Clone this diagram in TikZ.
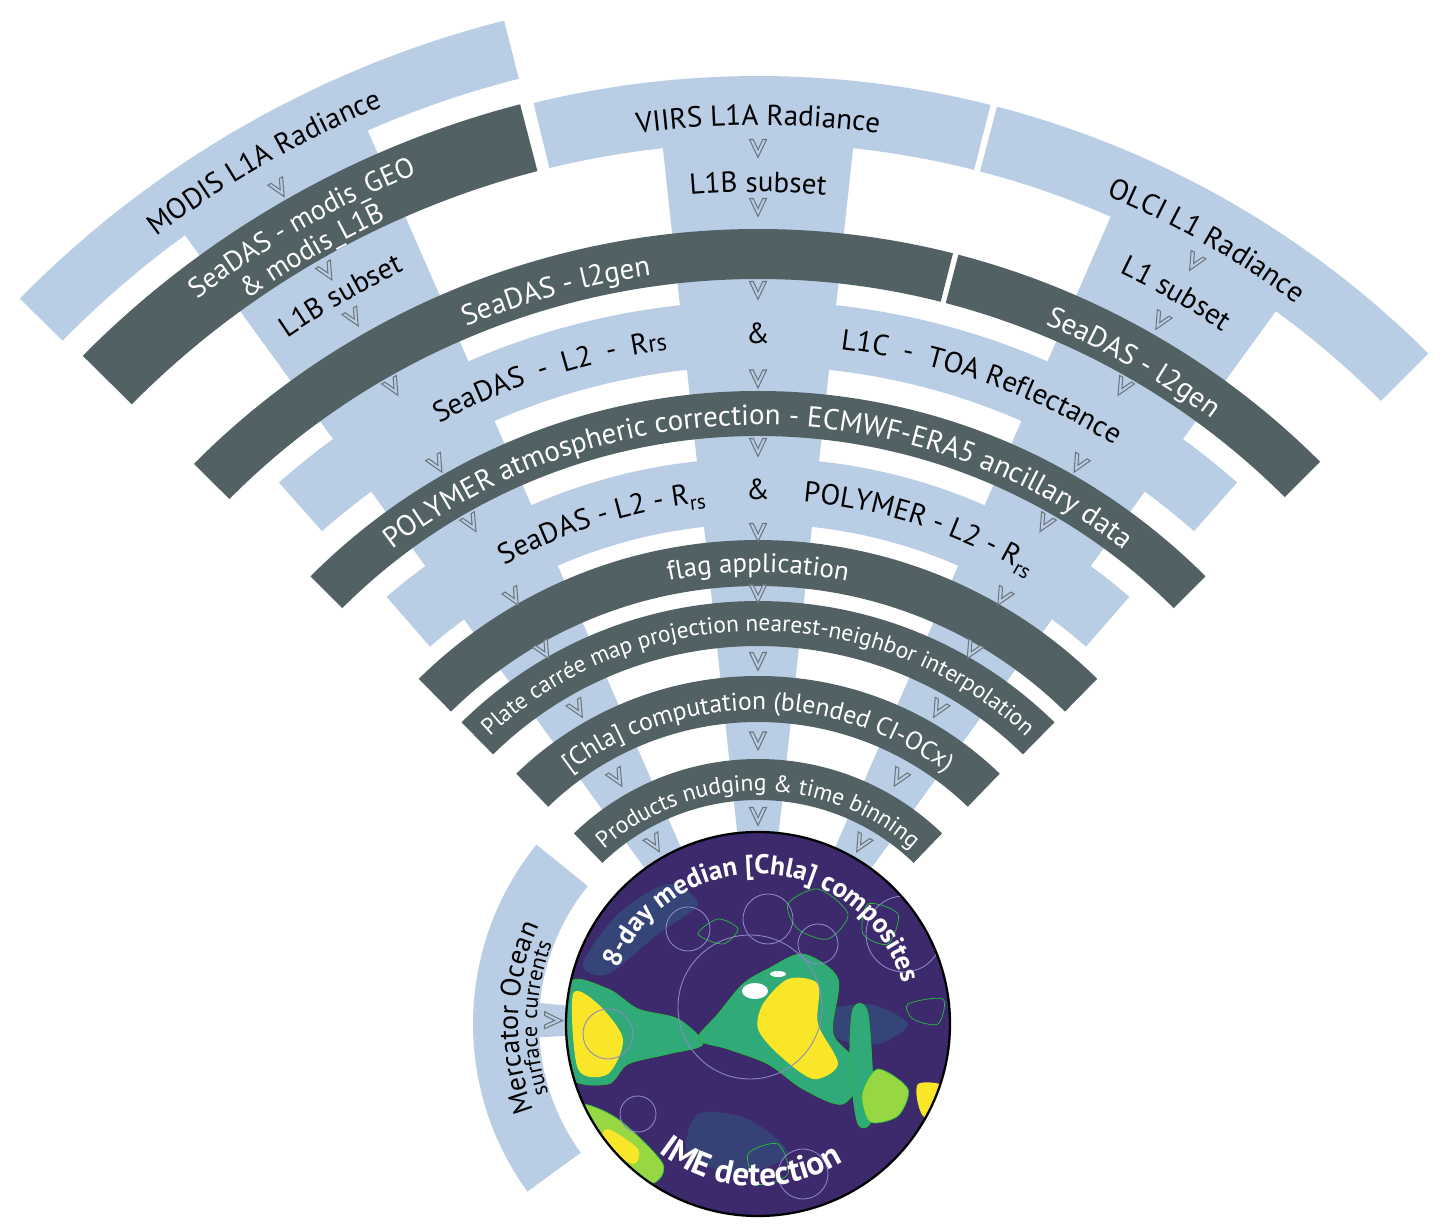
\documentclass[tikz,border=0pt]{standalone}
\usepackage{fontspec}
\setmainfont{PT Sans}
\usetikzlibrary{decorations.text}
\definecolor{liteblue}{RGB}{185,205,229}
\definecolor{slate}{RGB}{82,98,100}
\definecolor{chevgray}{RGB}{110,118,124}
\definecolor{ocean}{RGB}{60,42,108}
\definecolor{vteal}{RGB}{42,120,142}
\definecolor{vgreen}{RGB}{48,170,120}
\definecolor{vlime}{RGB}{150,215,67}
\definecolor{vyellow}{RGB}{250,230,40}
\definecolor{contour}{RGB}{40,190,60}
\definecolor{ringcol}{RGB}{140,135,200}
\newcommand{\fsz}[1]{\fontsize{#1}{#1}\selectfont}
\newcommand{\annul}[4]{({#1}:#3) arc[start angle=#1, end angle=#2, radius=#3] -- ({#2}:#4) arc[start angle=#2, end angle=#1, radius=#4] -- cycle}
\newcommand{\overtext}[5]{\path[decorate, decoration={text along path, text align=center, text={|#4|#5}}] ({#1+#2}:#3) arc[start angle={#1+#2}, end angle={#1-#2}, radius=#3];}
\newcommand{\undertext}[5]{\path[decorate, decoration={text along path, text align=center, text={|#4|#5}}] ({#1-#2}:#3) arc[start angle={#1-#2}, end angle={#1+#2}, radius=#3];}
\newcommand{\rsub}{{\raisebox{-0.4ex}{\fsz{12}rs}}}
\def\disc{(0,0) circle (192)}
\tikzset{
  lite/.style={fill=liteblue},
  dark/.style={fill=slate},
  chevline/.style={draw=chevgray, line width=0.6pt, fill=liteblue},
  pics/chev/.style={code={\draw[chevline] (-8.5,8.5) -- (-4.8,8.5) -- (0,-1.6) -- (4.8,8.5) -- (8.5,8.5) -- (0,-9.5) -- cycle;}},
  blob/.style={draw=contour, line width=0.4pt}
}
\begin{document}
\begin{tikzpicture}[x=0.02cm,y=0.02cm]
\useasboundingbox (-758,-206) rectangle (689,1024);
% spokes
\fill[lite] \annul{113.6}{126}{976}{185};
\fill[lite] \annul{83.8}{96.2}{882}{185};
\fill[lite] \annul{54}{66.4}{882}{185};
\fill[lite] \annul{174.5}{183.5}{222}{185};
% light bands
\fill[lite] \annul{104.2}{135.5}{1035}{975};
\fill[lite] \annul{75.8}{103.7}{948}{881};
\fill[lite] \annul{45}{75.4}{948}{881};
\fill[lite] \annul{48.5}{131.5}{723}{658};
\fill[lite] \annul{49}{131}{566}{500};
\fill[lite] \annul{141}{216}{285}{219};
% dark bands
\fill[dark] \annul{104.5}{135.3}{950}{881};
\fill[dark] \annul{75.8}{135.2}{795}{745};
\fill[dark] \annul{45}{75.4}{795}{745};
\fill[dark] \annul{45}{135}{633}{588};
\fill[dark] \annul{45.5}{134.5}{484}{438};
\fill[dark] \annul{45.5}{134.5}{423}{378};
\fill[dark] \annul{46}{134}{348}{302};
\fill[dark] \annul{46}{134}{265}{224};
% chevrons
\foreach \a in {119.8,90,60.2}
  \foreach \r in {734,645.5,577,492,430.5,363,283.5,208}
    \pic[rotate=\a-90] at (\a:\r) {chev};
\pic[rotate=29.8] at (119.8:963) {chev};
\pic[rotate=29.8] at (119.8:867) {chev};
\pic[rotate=29.8] at (119.8:814) {chev};
\pic at (90:876) {chev};
\pic at (90:817) {chev};
\pic[rotate=-29.8] at (60.2:878) {chev};
\pic[rotate=-29.8] at (60.2:810) {chev};
\pic[rotate=89] at (179:205) {chev};
% composite disc
\begin{scope}
  \clip \disc;
  \fill[ocean] \disc;
  \fill[vteal,opacity=.35] plot[smooth cycle] coordinates {(-175,60) (-140,110) (-90,140) (-60,120) (-100,90) (-150,50)};
  \fill[vteal,opacity=.35] plot[smooth cycle] coordinates {(60,10) (110,20) (150,0) (120,-20) (80,-15)};
  \fill[vteal,opacity=.3] plot[smooth cycle] coordinates {(-60,-90) (-10,-95) (30,-130) (-20,-150) (-70,-130)};
  \fill[vgreen,blob] plot[smooth cycle] coordinates {(-40,10) (-15,40) (10,55) (45,70) (80,45) (75,-10) (105,-45) (85,-80) (45,-65) (10,-40) (-30,-25) (-60,-15)};
  \fill[vyellow] plot[smooth cycle] coordinates {(5,20) (30,45) (60,40) (60,0) (80,-40) (55,-55) (20,-30) (0,-5)};
  \fill[white] (-3,33) ellipse (13 and 8);
  \fill[white] (20,50) ellipse (8 and 3);
  \fill[vgreen,blob] plot[smooth cycle] coordinates {(-190,40) (-150,35) (-120,15) (-80,5) (-55,-20) (-90,-30) (-130,-40) (-150,-60) (-190,-50)};
  \fill[vyellow] plot[smooth cycle] coordinates {(-185,30) (-160,20) (-135,-15) (-150,-50) (-180,-45)};
  \fill[vlime,blob] plot[smooth cycle] coordinates {(-180,-80) (-140,-95) (-95,-140) (-110,-160) (-160,-130) (-190,-110)};
  \fill[vyellow] plot[smooth cycle] coordinates {(-150,-105) (-120,-125) (-125,-140) (-155,-120)};
  \fill[vgreen,blob] plot[smooth cycle] coordinates {(95,15) (110,10) (115,-90) (100,-100) (92,-40)};
  \fill[vlime,blob] plot[smooth cycle] coordinates {(120,-45) (150,-65) (140,-92) (112,-98) (104,-70)};
  \fill[vyellow] plot[smooth cycle] coordinates {(160,-60) (195,-65) (195,-100) (165,-92)};
  \draw[blob] plot[smooth cycle] coordinates {(-60,90) (-40,105) (-20,95) (-35,80)};
  \draw[blob] plot[smooth cycle] coordinates {(30,120) (60,135) (90,110) (70,85) (40,95)};
  \draw[blob] plot[smooth cycle] coordinates {(110,120) (140,110) (130,80) (105,90)};
  \draw[blob] plot[smooth cycle] coordinates {(-10,-130) (20,-120) (30,-150) (0,-160)};
  \draw[blob] plot[smooth cycle] coordinates {(150,20) (185,25) (180,0) (155,5)};
  \foreach \c/\s in {{(-8,17)}/72,{(146,90)}/38,{(-70,95)}/22,{(10,105)}/25,{(60,80)}/20,{(-150,-10)}/25,{(-120,-90)}/18,{(45,-150)}/25}
    \draw[ringcol,line width=0.5pt] \c circle (\s);
\end{scope}
\draw[line width=1.3pt] \disc;
% labels
\overtext{119.8}{30}{991}{\fsz{16.5}}{MODIS L1A Radiance}
\overtext{90}{30}{899}{\fsz{16.5}}{VIIRS L1A Radiance}
\overtext{60.2}{30}{899}{\fsz{16.5}}{OLCI L1 Radiance}
\overtext{119.8}{30}{916}{\fsz{16}\color{white}}{SeaDAS - modis{\_}GEO}
\overtext{120}{30}{886}{\fsz{16}\color{white}}{{\&} modis{\_}L1B}
\overtext{119.8}{20}{832}{\fsz{16.5}}{L1B subset}
\overtext{90}{20}{832}{\fsz{16.5}}{L1B subset}
\overtext{60.2}{20}{834}{\fsz{16.5}}{L1 subset}
\overtext{105.4}{30}{756}{\fsz{16.5}\color{white}}{SeaDAS - l2gen}
\overtext{60.4}{20}{756}{\fsz{16.5}\color{white}}{SeaDAS - l2gen}
\overtext{107.8}{25}{680}{\fsz{16.5}}{SeaDAS{\enspace}-{\enspace}L2{\enspace}-{\enspace}R{\fsz{14}rs}}
\overtext{90}{10}{680}{\fsz{16.5}}{{\&}}
\overtext{70.7}{25}{680}{\fsz{16.5}}{L1C{\enspace}-{\enspace}TOA Reflectance}
\overtext{90}{50}{599}{\fsz{16.5}\color{white}}{POLYMER atmospheric correction - ECMWF-ERA5 ancillary data}
\overtext{107.3}{25}{524}{\fsz{16.5}}{SeaDAS - L2 - R\rsub}
\overtext{90}{10}{524}{\fsz{16.5}}{{\&}}
\overtext{72}{25}{524}{\fsz{16.5}}{POLYMER - L2 - R\rsub}
\overtext{90}{30}{452}{\fsz{15.3}\color{white}}{flag application}
\overtext{90}{60}{393}{\fsz{13.3}\color{white}}{Plate carrée map projection nearest-neighbor interpolation}
\overtext{90}{60}{314}{\fsz{14.6}\color{white}}{[Chla] computation (blended CI-OCx)}
\overtext{90}{60}{233}{\fsz{13.4}\color{white}}{Products nudging {\&} time binning}
\overtext{87}{80}{150}{\fsz{15.5}\bfseries\color{white}}{8-day median [Chla] composites}
\undertext{267}{60}{162}{\fsz{19}\bfseries\color{white}}{IME detection}
\overtext{178.5}{30}{240}{\fsz{16}}{Mercator Ocean}
\overtext{178.5}{30}{221}{\fsz{12.8}}{surface currents}
\end{tikzpicture}
\end{document}
